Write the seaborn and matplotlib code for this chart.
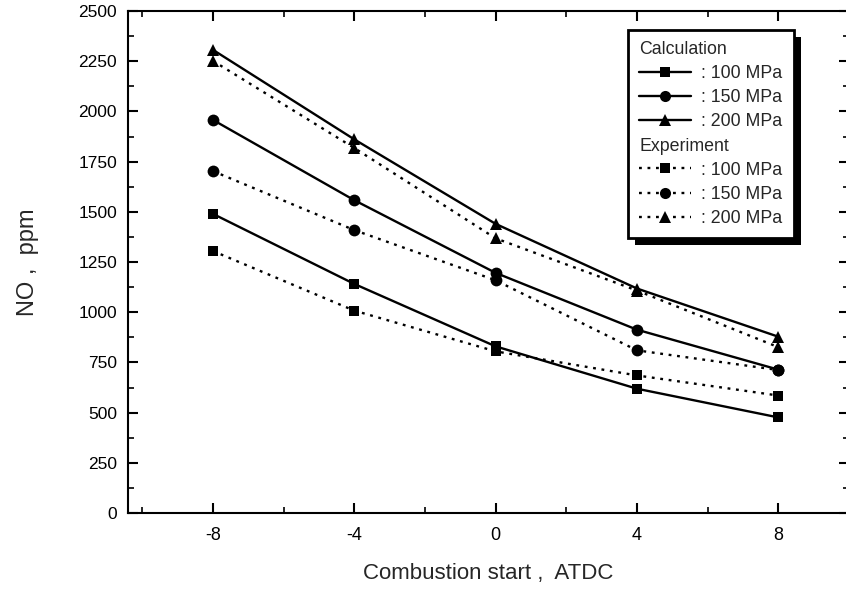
import numpy as np
import pandas as pd
import matplotlib
matplotlib.use('Agg')
import matplotlib.pyplot as plt
from matplotlib.lines import Line2D
from matplotlib.patches import Rectangle
from matplotlib.ticker import MultipleLocator
import seaborn as sns

sns.set_style('ticks')
plt.rcParams['font.family'] = ['Liberation Sans', 'DejaVu Sans']
plt.rcParams['axes.unicode_minus'] = False

# data
start = [-8, -4, 0, 4, 8]
calc_100 = [1490, 1141, 830, 619, 476]
calc_150 = [1958, 1558, 1196, 913, 714]
calc_200 = [2307, 1861, 1440, 1118, 878]
exp_100 = [1305, 1008, 805, 685, 585]
exp_150 = [1703, 1409, 1159, 810, 712]
exp_200 = [2252, 1818, 1368, 1108, 826]
pressures = ['100 MPa', '150 MPa', '200 MPa']

fig = plt.figure(figsize=(8.46, 5.94), dpi=100)
ax = fig.add_axes([128/846, 1 - 513/594, (849 - 128)/846, (513 - 11)/594])

markers = ['s', 'o', '^']
msizes = [7.5, 8.5, 9]
dotted = (0, (1.2, 2.4))

calc_handles = []
exp_handles = []
for vals, m, ms in zip([calc_100, calc_150, calc_200], markers, msizes):
    sns.lineplot(x=start, y=vals, ax=ax, color='black', marker=m, markersize=ms,
                 linewidth=1.7, markeredgewidth=0)
    calc_handles.append(Line2D([], [], color='black', marker=m, markersize=ms - 0.5,
                               linewidth=1.7, markeredgewidth=0))
for vals, m, ms in zip([exp_100, exp_150, exp_200], markers, msizes):
    sns.lineplot(x=start, y=vals, ax=ax, color='black', marker=m, markersize=ms,
                 linewidth=1.7, linestyle=dotted, markeredgewidth=0)
    exp_handles.append(Line2D([], [], color='black', marker=m, markersize=ms - 0.5,
                              linewidth=1.7, linestyle=dotted, markeredgewidth=0))

ax.set_xlim(-10.4, 10.0)
ax.set_ylim(0, 2500)
ax.xaxis.set_major_locator(MultipleLocator(4))
ax.xaxis.set_minor_locator(MultipleLocator(2))
ax.yaxis.set_major_locator(MultipleLocator(250))
ax.yaxis.set_minor_locator(MultipleLocator(125))
ax.tick_params(which='both', direction='in', top=True, right=True, colors='black')
ax.tick_params(which='major', length=7, width=1.5)
ax.tick_params(which='minor', length=4, width=1.2)
ax.tick_params(axis='y', which='major', labelsize=12.5, pad=8)
ax.tick_params(axis='x', which='major', labelsize=13, pad=10)
for s in ax.spines.values():
    s.set_linewidth(1.5)
    s.set_color('black')

ax.set_xlabel('Combustion start ,  ATDC', fontsize=16, labelpad=14)
ax.set_ylabel('NO ,  ppm', fontsize=17, labelpad=28)

blank = Line2D([], [], linestyle='none')
handles = [blank] + calc_handles + [blank] + exp_handles
labels = ['Calculation'] + [': ' + p for p in pressures] + ['Experiment'] + [': ' + p for p in pressures]
leg = ax.legend(handles, labels, loc='upper left', bbox_to_anchor=(0.693, 0.963),
                frameon=True, fancybox=False, shadow=False,
                edgecolor='black', framealpha=1, fontsize=12.8, handlelength=2.9,
                handletextpad=0.6, labelspacing=0.4, borderpad=0.65, borderaxespad=0)
leg.get_frame().set_linewidth(2)
leg.set_zorder(10)
# header rows: drop the empty handle so the text starts at the left edge
column = leg._legend_handle_box.get_children()[0]
for i, item in enumerate(column.get_children()):
    if labels[i] in ('Calculation', 'Experiment'):
        item._children = [item.get_children()[1]]

# thick black drop shadow like the scanned figure
fig.canvas.draw()
bb = leg.get_frame().get_window_extent().transformed(fig.transFigure.inverted())
off_x, off_y = 7 / 846, 7 / 594
shadow = Rectangle((bb.x0 + off_x, bb.y0 - off_y), bb.width, bb.height,
                   transform=fig.transFigure, facecolor='black',
                   edgecolor='none', zorder=9, clip_on=False)
ax.add_artist(shadow)

fig.savefig('out.png', dpi=100)
